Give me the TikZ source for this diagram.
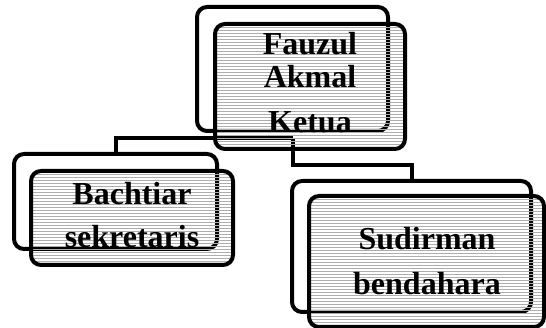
\documentclass[tikz,border=0pt]{standalone}
\usepackage{fontspec}
\setmainfont{Liberation Serif}
\begin{document}
\begin{tikzpicture}[x=1pt,y=-1pt,
  outline/.style={draw=black,line width=4pt,rounded corners=10pt,inner sep=0pt,outer sep=0pt},
  backbox/.style={outline},
  frontbox/.style={outline,
    path picture={\foreach \k in {0,...,50}
      \draw[hatch] ([yshift=-3*\k pt]path picture bounding box.north west)
        -- ([yshift=-3*\k pt]path picture bounding box.north east);}},
  hatch/.style={draw=black!32,line width=0.8pt},
  link/.style={draw=black,line width=4pt},
  label/.style={anchor=base,inner sep=0pt,font=\fontsize{32}{36}\selectfont\bfseries},
  stray/.style={anchor=base,inner sep=0pt,font=\fontsize{20}{24}\selectfont}]
\useasboundingbox (0,0) rectangle (546,328);

% line of text above the chart (only its descenders reach this area)
\node[stray] (sp) at (137,-4) {p};
\node[stray] (sg) at (257,-4) {g};

% outline boxes behind
\node[backbox,minimum width=191pt,minimum height=124pt] (kb) at (292.5,69) {};
\node[backbox,minimum width=203pt,minimum height=95pt] (bb) at (115.5,201.5) {};
\node[backbox,minimum width=239pt,minimum height=131pt] (sb) at (411.5,246.5) {};

% connectors
\coordinate (J) at (292.5,138);
\coordinate (K) at (292.5,165);
\draw[link] (J) -| (bb.north);
\draw[link] (J) -- (K) -| (sb.north);

% hatched front boxes
\node[frontbox,minimum width=190pt,minimum height=125pt] (kf) at (310,86.5) {};
\node[frontbox,minimum width=202pt,minimum height=94pt] (bf) at (132,218) {};
\node[frontbox,minimum width=235pt,minimum height=131pt] (sf) at (426.5,261.5) {};

% names and roles
\node[label] (k1) at (310,55) {Fauzul};
\node[label] (k2) at (310,88) {Akmal};
\node[label] (k3) at (310,133) {Ketua};
\node[label] (b1) at (132,205) {Bachtiar};
\node[label] (b2) at (132,248) {sekretaris};
\node[label] (s1) at (427,250) {Sudirman};
\node[label] (s2) at (427,295) {bendahara};
\end{tikzpicture}
\end{document}
